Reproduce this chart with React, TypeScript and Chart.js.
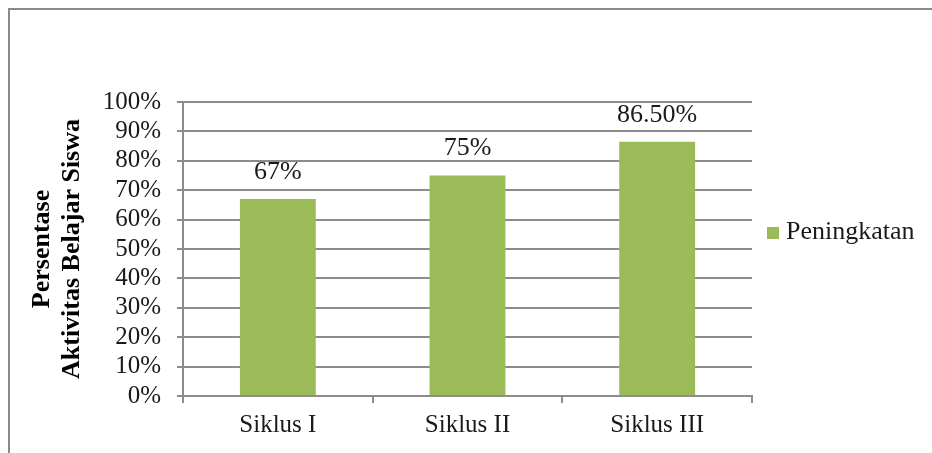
import React, { useEffect, useRef } from "react";
import { Chart, registerables } from "chart.js";

Chart.register(...registerables);

const categories = ["Siklus I", "Siklus II", "Siklus III"];
const seriesName = "Peningkatan";
const values = [67, 75, 86.5];
const valueLabels = ["67%", "75%", "86.50%"];
const yAxisTitle = ["Persentase", "Aktivitas Belajar Siswa"];
const yMin = 0;
const yMax = 100;
const yStep = 10;

const FAMILY = "'Liberation Serif', 'Times New Roman', serif";
const TEXT = "#1a1a1a";
const GRID = "#8c8c8c";
const BAR = "#9BBB59";

const valueLabelPlugin = {
  id: "valueLabels",
  afterDatasetsDraw(chart: any) {
    const ctx = chart.ctx;
    const meta = chart.getDatasetMeta(0);
    ctx.save();
    ctx.font = `26px ${FAMILY}`;
    ctx.fillStyle = TEXT;
    ctx.textAlign = "center";
    ctx.textBaseline = "middle";
    meta.data.forEach((el: any, i: number) => {
      ctx.fillText(valueLabels[i], el.x, el.y - 27);
    });
    ctx.restore();
  },
};

const legendPlugin = {
  id: "sideLegend",
  afterDraw(chart: any) {
    const ctx = chart.ctx;
    const area = chart.chartArea;
    const cy = area.top + 131;
    ctx.save();
    ctx.fillStyle = BAR;
    ctx.fillRect(area.right + 15, cy - 6, 12, 12);
    ctx.font = `26px ${FAMILY}`;
    ctx.fillStyle = TEXT;
    ctx.textAlign = "left";
    ctx.textBaseline = "middle";
    ctx.fillText(seriesName, area.right + 34, cy - 1);
    ctx.restore();
  },
};

export default function App() {
  const canvasRef = useRef<HTMLCanvasElement | null>(null);

  useEffect(() => {
    if (!canvasRef.current) return;
    const chart = new Chart(canvasRef.current, {
      type: "bar",
      data: {
        labels: categories,
        datasets: [
          {
            label: seriesName,
            data: values,
            backgroundColor: BAR,
            borderWidth: 0,
            barPercentage: 0.4,
            categoryPercentage: 1.0,
          },
        ],
      },
      options: {
        responsive: false,
        animation: false,
        devicePixelRatio: 1,
        layout: { padding: { top: 102, right: 180, bottom: 0, left: 20 } },
        plugins: {
          legend: { display: false },
          tooltip: { enabled: false },
        },
        scales: {
          x: {
            ticks: { font: { family: FAMILY, size: 25 }, color: TEXT, padding: 7 },
            grid: {
              display: true,
              drawOnChartArea: false,
              drawTicks: true,
              tickLength: 7,
              color: GRID,
              lineWidth: 2,
              offset: true,
            },
            border: { display: true, color: GRID, width: 2 },
            afterFit: (s: any) => {
              s.height = 57;
            },
          },
          y: {
            min: yMin,
            max: yMax,
            ticks: {
              stepSize: yStep,
              autoSkip: false,
              callback: (v: any) => `${v}%`,
              font: { family: FAMILY, size: 25, lineHeight: 1 },
              color: TEXT,
              padding: 16,
            },
            grid: { color: GRID, lineWidth: 2, tickLength: 6, drawTicks: true },
            border: { display: true, color: GRID, width: 2 },
            title: {
              display: true,
              text: yAxisTitle,
              font: { family: FAMILY, size: 26, weight: "bold", lineHeight: 1.15 },
              color: "#000",
              padding: { top: 7, bottom: 0 },
            },
            afterFit: (s: any) => {
              s.width = 163;
            },
          },
        },
      } as any,
      plugins: [valueLabelPlugin, legendPlugin],
    });
    return () => chart.destroy();
  }, []);

  return (
    <div
      style={{
        position: "absolute",
        left: 0,
        top: 0,
        width: 932,
        height: 453,
        overflow: "hidden",
        background: "#fff",
      }}
    >
      <canvas
        ref={canvasRef}
        width={932}
        height={453}
        style={{ position: "absolute", left: 0, top: 0, display: "block" }}
      />
      <div
        style={{
          position: "absolute",
          left: 8,
          top: 8,
          width: 960,
          height: 480,
          borderTop: `2px solid #8a8a8a`,
          borderLeft: `2px solid #8a8a8a`,
          pointerEvents: "none",
        }}
      />
    </div>
  );
}
